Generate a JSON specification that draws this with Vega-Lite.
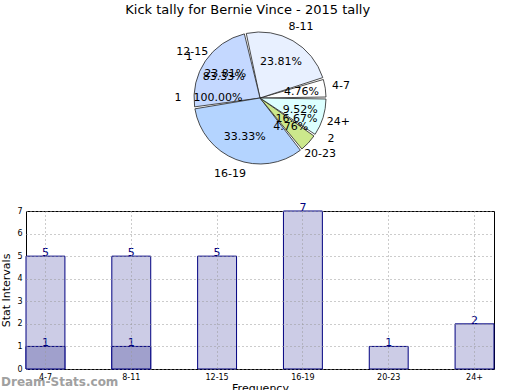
{
  "$schema": "https://vega.github.io/schema/vega-lite/v6.json",
  "title": {"text": "Kick tally for Bernie Vince - 2015 tally", "fontSize": 13, "fontWeight": "normal", "font": "DejaVu Sans", "anchor": "middle", "offset": 4},
  "padding": {"left": 0, "top": 3, "right": 27, "bottom": 0},
  "config": {"font": "DejaVu Sans", "view": {"stroke": null}},
  "datasets": {
    "main": [
      {"range": "4-7", "count": 1, "pct": "4.76%", "ord": 6},
      {"range": "8-11", "count": 5, "pct": "23.81%", "ord": 5},
      {"range": "12-15", "count": 5, "pct": "23.81%", "ord": 4},
      {"range": "16-19", "count": 7, "pct": "33.33%", "ord": 3},
      {"range": "20-23", "count": 1, "pct": "4.76%", "ord": 2},
      {"range": "24+", "count": 2, "pct": "9.52%", "ord": 1}
    ],
    "pie2": [
      {"label": "1", "count": 5, "pct": "83.33%", "ord": 2},
      {"label": "2", "count": 1, "pct": "16.67%", "ord": 1}
    ],
    "pie3": [
      {"label": "1", "count": 1, "pct": "100.00%", "ord": 1}
    ],
    "bars": [
      {"range": "4-7", "series": "a", "value": 5},
      {"range": "8-11", "series": "a", "value": 5},
      {"range": "12-15", "series": "a", "value": 5},
      {"range": "16-19", "series": "a", "value": 7},
      {"range": "20-23", "series": "a", "value": 1},
      {"range": "24+", "series": "a", "value": 2},
      {"range": "4-7", "series": "b", "value": 1},
      {"range": "8-11", "series": "b", "value": 1}
    ]
  },
  "spacing": 21,
  "vconcat": [
    {
      "width": 468,
      "height": 150,
      "view": {"stroke": null},
      "layer": [
        {
          "data": {"name": "main"},
          "mark": {"type": "arc", "outerRadius": 66, "padAngle": 0.03, "stroke": "#222222", "strokeWidth": 0.8},
          "encoding": {
            "theta": {"field": "count", "type": "quantitative", "stack": true, "scale": {"range": [1.5707963, 7.8539816]}},
            "order": {"field": "ord", "type": "quantitative"},
            "color": {"field": "range", "type": "nominal", "legend": null,
              "scale": {"domain": ["4-7", "8-11", "12-15", "16-19", "20-23", "24+"],
                        "range": ["#ffffff", "#e8f0ff", "#c4d8ff", "#b4d4ff", "#cce88c", "#dcffff"]}}
          }
        },
        {
          "data": {"name": "main"},
          "mark": {"type": "text", "radius": 82, "fontSize": 11, "color": "#000000"},
          "encoding": {
            "theta": {"field": "count", "type": "quantitative", "stack": true, "scale": {"range": [1.5707963, 7.8539816]}},
            "order": {"field": "ord", "type": "quantitative"},
            "text": {"field": "range"}
          }
        },
        {
          "data": {"name": "main"},
          "mark": {"type": "text", "radius": 42, "fontSize": 11, "color": "#000000"},
          "encoding": {
            "theta": {"field": "count", "type": "quantitative", "stack": true, "scale": {"range": [1.5707963, 7.8539816]}},
            "order": {"field": "ord", "type": "quantitative"},
            "text": {"field": "pct"}
          }
        },
        {
          "data": {"name": "pie2"},
          "mark": {"type": "text", "radius": 82, "fontSize": 11, "color": "#000000"},
          "encoding": {
            "theta": {"field": "count", "type": "quantitative", "stack": true, "scale": {"range": [1.5707963, 7.8539816]}},
            "order": {"field": "ord", "type": "quantitative"},
            "text": {"field": "label"}
          }
        },
        {
          "data": {"name": "pie2"},
          "mark": {"type": "text", "radius": 42, "fontSize": 11, "color": "#000000"},
          "encoding": {
            "theta": {"field": "count", "type": "quantitative", "stack": true, "scale": {"range": [1.5707963, 7.8539816]}},
            "order": {"field": "ord", "type": "quantitative"},
            "text": {"field": "pct"}
          }
        },
        {
          "data": {"name": "pie3"},
          "mark": {"type": "text", "radius": 82, "fontSize": 11, "color": "#000000"},
          "encoding": {
            "theta": {"field": "count", "type": "quantitative", "stack": true, "scale": {"range": [1.5707963, 7.8539816]}},
            "order": {"field": "ord", "type": "quantitative"},
            "text": {"field": "label"}
          }
        },
        {
          "data": {"name": "pie3"},
          "mark": {"type": "text", "radius": 42, "fontSize": 11, "color": "#000000"},
          "encoding": {
            "theta": {"field": "count", "type": "quantitative", "stack": true, "scale": {"range": [1.5707963, 7.8539816]}},
            "order": {"field": "ord", "type": "quantitative"},
            "text": {"field": "pct"}
          }
        }
      ],
      "resolve": {"scale": {"theta": "independent"}}
    },
    {
      "width": 468,
      "height": 158,
      "view": {"stroke": "#000000", "strokeWidth": 1},
      "title": {"text": "Dream-Stats.com", "orient": "bottom", "anchor": "start", "frame": "group", "offset": -16, "baseline": "top", "dx": -25, "color": "#a0a0a0", "fontSize": 12, "fontWeight": "bold", "font": "DejaVu Sans"},
      "data": {"name": "bars"},
      "encoding": {
        "x": {"field": "range", "type": "nominal",
              "sort": ["4-7", "8-11", "12-15", "16-19", "20-23", "24+"],
              "scale": {"paddingInner": 0.5465, "paddingOuter": 0},
              "axis": {"title": "Frequency", "titleFontSize": 11, "titleFontWeight": "normal", "titlePadding": 1,
                       "labelAngle": 0, "labelFontSize": 8, "labelPadding": 4, "ticks": false, "domain": false,
                       "grid": true, "gridDash": [1, 3], "gridColor": "#999999", "bandPosition": 0.5, "zindex": 1}},
        "y": {"field": "value", "type": "quantitative",
              "scale": {"domain": [0, 7], "nice": false},
              "axis": {"title": "Stat Intervals", "titleFontSize": 11, "titleFontWeight": "normal", "titlePadding": 5,
                       "values": [0, 1, 2, 3, 4, 5, 6, 7], "labelFontSize": 8, "labelPadding": 4, "ticks": false, "domain": false,
                       "grid": true, "gridDash": [1, 3], "gridColor": "#999999", "zindex": 1}}
      },
      "layer": [
        {
          "transform": [{"filter": "datum.series == 'a'"}],
          "mark": {"type": "bar", "fill": "#cccce6", "stroke": "#000080", "strokeWidth": 1}
        },
        {
          "transform": [{"filter": "datum.series == 'b'"}],
          "mark": {"type": "bar", "fill": "#a0a0cc", "stroke": "#000080", "strokeWidth": 1}
        },
        {
          "mark": {"type": "text", "baseline": "alphabetic", "fontSize": 11, "color": "#000080"},
          "encoding": {"text": {"field": "value", "type": "quantitative"}}
        }
      ]
    }
  ]
}
